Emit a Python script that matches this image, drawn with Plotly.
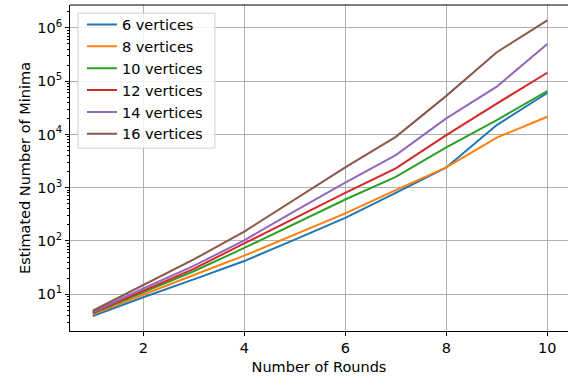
import plotly.graph_objects as go

rounds = [1, 2, 3, 4, 5, 6, 7, 8, 9, 10]

v6 = [3.9, 8.8, 19, 42, 106, 272, 800, 2400, 15000, 60000]
v8 = [4.2, 10, 23, 53, 132, 330, 900, 2400, 8700, 21500]
v10 = [4.4, 10.8, 27, 74, 210, 600, 1600, 5700, 18600, 65000]
v12 = [4.5, 11.6, 30, 90, 270, 800, 2300, 9700, 38000, 144000]
v14 = [4.6, 12.8, 34, 103, 363, 1250, 4100, 20000, 79000, 500000]
v16 = [4.9, 14.8, 45, 150, 600, 2400, 9000, 53000, 350000, 1390000]

series = [
    ("6 vertices", v6, "#1f77b4"),
    ("8 vertices", v8, "#ff7f0e"),
    ("10 vertices", v10, "#2ca02c"),
    ("12 vertices", v12, "#d62728"),
    ("14 vertices", v14, "#9467bd"),
    ("16 vertices", v16, "#8c564b"),
]

x_ticks = [2, 4, 6, 8, 10]
y_ticks = [10, 100, 1000, 10000, 100000, 1000000]
y_ticktext = ["10<sup>1</sup>", "10<sup>2</sup>", "10<sup>3</sup>",
              "10<sup>4</sup>", "10<sup>5</sup>", "10<sup>6</sup>"]
y_minor = [m * 10 ** e for e in range(0, 7) for m in range(2, 10)]

fig = go.Figure()
for i, (name, vals, color) in enumerate(series):
    fig.add_trace(go.Scatter(
        x=rounds, y=vals, mode="lines", name=name,
        line=dict(color=color, width=2),
        legendgroup=f"g{i}",
    ))

font = dict(family="DejaVu Sans", size=14.5, color="black")

fig.update_layout(
    width=568, height=377,
    margin=dict(l=70, r=0, t=5, b=46),
    paper_bgcolor="white", plot_bgcolor="white",
    font=font,
    showlegend=True,
    legend=dict(
        x=0.024, y=0.989, xanchor="left", yanchor="top",
        bgcolor="rgba(0,0,0,0)", borderwidth=0,
        font=dict(family="DejaVu Sans", size=14.5, color="black"),
        tracegroupgap=0, itemwidth=30,
    ),
    xaxis=dict(
        range=[0.55, 10.41],
        tickvals=x_ticks,
        ticks="outside", ticklen=4, tickcolor="black", tickwidth=1,
        tickfont=font,
        showline=True, linecolor="black", linewidth=1,
        showgrid=True, gridcolor="#b0b0b0", gridwidth=1,
        zeroline=False, automargin=False,
        title=dict(text="Number of Rounds", standoff=6, font=font),
    ),
    yaxis=dict(
        type="log",
        range=[0.31, 6.43],
        tickvals=y_ticks, ticktext=y_ticktext,
        ticks="outside", ticklen=4, tickcolor="black", tickwidth=1,
        tickfont=font,
        minor=dict(tickvals=y_minor, ticks="outside", ticklen=2,
                   tickcolor="black", showgrid=False),
        showline=True, linecolor="black", linewidth=1,
        showgrid=True, gridcolor="#b0b0b0", gridwidth=1,
        zeroline=False, automargin=False,
        title=dict(text="Estimated Number of Minima", standoff=3, font=font),
    ),
    shapes=[
        dict(type="line", xref="paper", yref="paper",
             x0=0, x1=1, y0=1, y1=1,
             line=dict(color="black", width=1)),
        dict(type="rect", xref="paper", yref="paper", layer="above",
             x0=0.016, x1=0.291, y0=0.561, y1=0.975,
             fillcolor="rgba(255,255,255,0.85)",
             line=dict(color="#d0d0d0", width=1)),
    ],
)

fig.write_html(
    "out.html",
    config={"displayModeBar": False},
    post_script="document.body.style.margin='0';document.body.style.overflow='hidden';",
)
